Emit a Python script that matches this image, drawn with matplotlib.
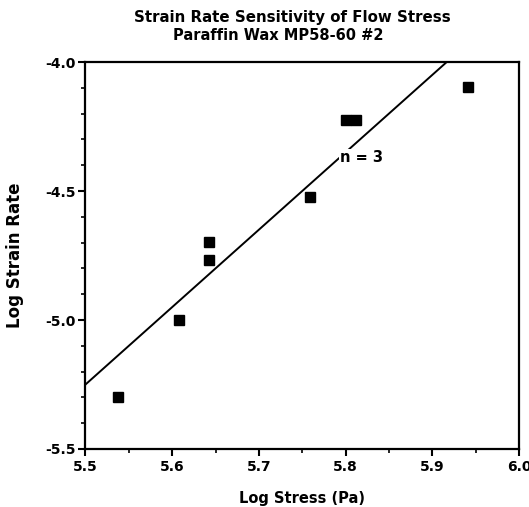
import numpy as np
import matplotlib
matplotlib.use("Agg")
import matplotlib.pyplot as plt
from matplotlib.ticker import MultipleLocator, FormatStrFormatter

# Measured flow data: log10 stress (Pa) vs log10 strain rate
log_stress = [5.538, 5.608, 5.642, 5.642, 5.759, 5.800, 5.812, 5.941]
log_strain_rate = [-5.300, -5.000, -4.699, -4.767, -4.522, -4.225, -4.225, -4.096]

# Power-law fit: log(rate) = n * log(stress) + c, with n = 3
fit_n = 3.0
fit_ref_stress = 5.5
fit_ref_rate = -5.25

x_ticks = [5.5, 5.6, 5.7, 5.8, 5.9, 6.0]
y_ticks = [-5.5, -5.0, -4.5, -4.0]

plt.rcParams['font.family'] = ['DejaVu Sans']
plt.rcParams['font.weight'] = 'bold'

fig = plt.figure(figsize=(5.29, 5.07), dpi=100)
ax = fig.add_axes([0.1616, 0.1144, 0.8195, 0.7633])

ax.plot(log_stress, log_strain_rate, linestyle='none', marker='s',
        markersize=6.8, color='black', zorder=3)

fx = np.array([fit_ref_stress, 6.0])
fy = fit_ref_rate + fit_n * (fx - fit_ref_stress)
ax.plot(fx, fy, color='black', linewidth=1.4, zorder=2)

ax.text(5.794, -4.37, 'n = 3', fontsize=10.5, fontweight='bold',
        ha='left', va='center', zorder=4,
        bbox=dict(facecolor='white', edgecolor='none', pad=1.0))

ax.set_xlim(5.5, 6.0)
ax.set_ylim(-5.5, -4.0)
ax.set_xticks(x_ticks)
ax.set_yticks(y_ticks)
ax.xaxis.set_major_formatter(FormatStrFormatter('%.1f'))
ax.yaxis.set_major_formatter(FormatStrFormatter('%.1f'))
ax.xaxis.set_minor_locator(MultipleLocator(0.05))
ax.yaxis.set_minor_locator(MultipleLocator(0.1))
ax.tick_params(which='major', direction='out', length=5, width=1.5,
               labelsize=10, pad=3)
ax.tick_params(axis='y', which='major', pad=2)
ax.tick_params(which='minor', direction='out', length=3, width=1.2)
for lab in ax.get_xticklabels() + ax.get_yticklabels():
    lab.set_fontweight('bold')
for sp in ax.spines.values():
    sp.set_linewidth(1.6)

ax.set_xlabel('Log Stress (Pa)', fontsize=10.5, fontweight='bold', labelpad=12)
ax.set_ylabel('Log Strain Rate', fontsize=12, fontweight='bold', labelpad=15)

fig.text(0.552, 0.966, 'Strain Rate Sensitivity of Flow Stress', fontsize=10.8,
         fontweight='bold', ha='center', va='center')
fig.text(0.526, 0.929, 'Paraffin Wax MP58-60 #2', fontsize=10.5,
         fontweight='bold', ha='center', va='center')

fig.savefig('out.png', dpi=100)
